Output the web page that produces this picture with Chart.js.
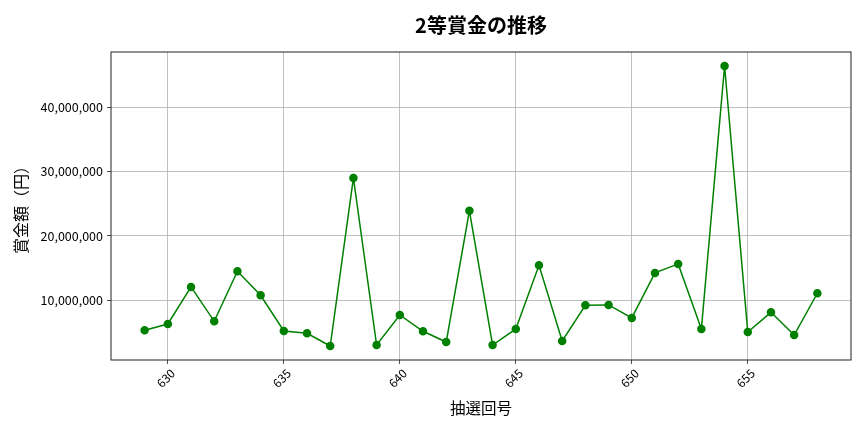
<!DOCTYPE html>
<html>
<head>
<meta charset="utf-8">
<script src="https://cdn.jsdelivr.net/npm/chart.js@4.4.1/dist/chart.umd.min.js"></script>
<style>
  html, body { margin: 0; padding: 0; background: #fff; }
  #wrap { width: 864px; height: 432px; }
</style>
</head>
<body>
<div id="wrap"><canvas id="lineChart"></canvas></div>
<script>
// 抽選回と2等賞金
const kaisu = [629, 630, 631, 632, 633, 634, 635, 636, 637, 638,
               639, 640, 641, 642, 643, 644, 645, 646, 647, 648,
               649, 650, 651, 652, 653, 654, 655, 656, 657, 658];
const shokin = [5330000, 6310000, 12070000, 6730000, 14500000, 10780000, 5230000, 4870000, 2890000, 29000000,
                3050000, 7710000, 5180000, 3510000, 23900000, 3050000, 5540000, 15440000, 3670000, 9220000,
                9270000, 7250000, 14250000, 15650000, 5540000, 46400000, 5070000, 8130000, 4600000, 11090000];
const xTicks = [630, 635, 640, 645, 650, 655];
const yTicks = [10000000, 20000000, 30000000, 40000000];
const titulo = '2等賞金の推移';

const fuente = '"Noto Sans CJK JP", "Noto Sans", sans-serif';

// matplotlib風に枠を四辺すべてに描き、タイトルを描画領域の中央に置く
const marco = {
    id: 'marco',
    afterDraw(chart) {
        const a = chart.chartArea;
        const ctx = chart.ctx;
        ctx.save();
        ctx.strokeStyle = '#222';
        ctx.lineWidth = 1;
        ctx.strokeRect(a.left, a.top, a.right - a.left, a.bottom - a.top);
        ctx.fillStyle = '#000';
        ctx.font = 'bold 20px ' + fuente;
        ctx.textAlign = 'center';
        ctx.textBaseline = 'middle';
        ctx.fillText(titulo, (a.left + a.right) / 2, 25);
        ctx.restore();
    }
};

window.onload = function() {
    const puntos = kaisu.map((k, i) => ({ x: k, y: shokin[i] }));
    const ctxL = document.getElementById('lineChart').getContext('2d');
    new Chart(ctxL, {
        type: 'line',
        data: {
            datasets: [{
                label: '2等賞金',
                data: puntos,
                borderColor: '#008000',
                backgroundColor: '#008000',
                borderWidth: 1.5,
                pointRadius: 3.5,
                pointHoverRadius: 3.5,
                tension: 0
            }]
        },
        options: {
            responsive: true,
            maintainAspectRatio: false,
            animation: false,
            layout: { padding: { left: 0, right: 13, top: 52, bottom: 0 } },
            plugins: {
                legend: { display: false },
                tooltip: { enabled: false },
                title: { display: false }
            },
            scales: {
                x: {
                    type: 'linear',
                    min: 627.55,
                    max: 659.45,
                    afterBuildTicks: (s) => { s.ticks = xTicks.map(v => ({ value: v })); },
                    afterFit: (s) => { s.height = 72; },
                    grid: { color: '#b0b0b0', lineWidth: 0.8, tickLength: 4, tickColor: '#222' },
                    border: { display: false },
                    ticks: {
                        color: '#000',
                        font: { family: fuente, size: 12 },
                        minRotation: 45,
                        maxRotation: 45,
                        labelOffset: 5,
                        padding: 2,
                        callback: (v) => String(v)
                    },
                    title: {
                        display: true,
                        text: '抽選回号',
                        color: '#000',
                        font: { family: fuente, size: 15.5 },
                        padding: { top: 0, bottom: 15 }
                    }
                },
                y: {
                    min: 720000,
                    max: 48570000,
                    afterBuildTicks: (s) => { s.ticks = yTicks.map(v => ({ value: v })); },
                    afterFit: (s) => { s.width = 111; },
                    grid: { color: '#b0b0b0', lineWidth: 0.8, tickLength: 4, tickColor: '#222' },
                    border: { display: false },
                    ticks: {
                        color: '#000',
                        font: { family: fuente, size: 12.5 },
                        padding: 4,
                        callback: (v) => v.toLocaleString('en-US')
                    },
                    title: {
                        display: true,
                        text: '賞金額（円）',
                        color: '#000',
                        font: { family: fuente, size: 16 },
                        padding: { top: 11, bottom: 0 }
                    }
                }
            }
        },
        plugins: [marco]
    });
};
</script>
</body>
</html>
